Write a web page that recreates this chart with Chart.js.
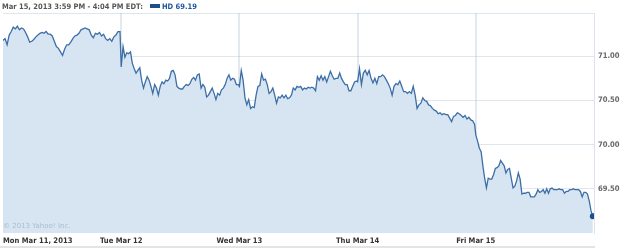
<!DOCTYPE html>
<html>
<head>
<meta charset="utf-8">
<script src="https://cdn.jsdelivr.net/npm/chart.js@4.4.1/dist/chart.umd.min.js"></script>
<style>
  body { margin: 0; background: #fff; }
  #wrap { position: relative; width: 625px; height: 248px; }
  #head { position: absolute; left: 2px; top: 2px; font: bold 7.5px "DejaVu Sans Condensed", "DejaVu Sans", sans-serif; color: #555; white-space: nowrap; }
  #head .sw { display: inline-block; width: 10px; height: 4px; background: #1d4f8c; margin: 0 2px 1px 7px; vertical-align: middle; }
  #head .hd { color: #1d5699; }
  #copy { position: absolute; left: 3px; top: 222px; font: 7px "DejaVu Sans", sans-serif; color: #aabdcf; }
  #strip { position: absolute; left: 0; top: 246px; width: 595px; height: 2px; background: #e4e4e4; }
  canvas { position: absolute; left: 0; top: 0; }
</style>
</head>
<body>
<div id="wrap">
  <canvas id="hdChart" width="625" height="246"></canvas>
  <div id="head">Mar 15, 2013 3:59 PM - 4:04 PM EDT:<span class="sw"></span><span class="hd">HD 69.19</span></div>
  <div id="copy">© 2013 Yahoo! Inc.</div>
  <div id="strip"></div>
</div>
<script>
// tick labels
const dayLabels = ['Mon Mar 11, 2013', 'Tue Mar 12', 'Wed Mar 13', 'Thu Mar 14', 'Fri Mar 15', ''];
const priceTicks = [69.5, 70, 70.5, 71];

// HD price, one array per trading day (evenly spaced through the session)
const mon = [71.18, 71.20, 71.13, 71.24, 71.28, 71.33, 71.31, 71.34, 71.30, 71.32, 71.31, 71.27, 71.22, 71.16, 71.17,
  71.19, 71.22, 71.24, 71.26, 71.27, 71.26, 71.28, 71.25, 71.25, 71.23, 71.17, 71.11, 71.09, 71.05, 71.01,
  71.08, 71.13, 71.13, 71.16, 71.20, 71.23, 71.24, 71.26, 71.30, 71.31, 71.32, 71.31, 71.30, 71.24, 71.21,
  71.26, 71.25, 71.27, 71.23, 71.25, 71.20, 71.18, 71.20, 71.17, 71.22, 71.24, 71.28, 71.28];
const tue = [70.88, 71.11, 70.99, 71.04, 71.03, 71.05, 70.92, 70.86, 70.81, 70.84, 70.87, 70.73, 70.64, 70.71, 70.77,
  70.73, 70.66, 70.58, 70.68, 70.64, 70.56, 70.66, 70.71, 70.69, 70.73, 70.72, 70.75, 70.83, 70.84, 70.79,
  70.66, 70.64, 70.63, 70.63, 70.66, 70.68, 70.67, 70.69, 70.74, 70.76, 70.73, 70.79, 70.80, 70.64, 70.68,
  70.65, 70.54, 70.56, 70.60, 70.64, 70.58, 70.51, 70.58, 70.56, 70.62, 70.64, 70.68, 70.75, 70.79, 70.73,
  70.75, 70.74, 70.68, 70.68];
const wed = [70.66, 70.84, 70.73, 70.53, 70.45, 70.51, 70.41, 70.43, 70.42, 70.56, 70.66, 70.67, 70.80, 70.73, 70.74,
  70.68, 70.58, 70.60, 70.64, 70.56, 70.47, 70.54, 70.53, 70.56, 70.53, 70.56, 70.52, 70.53, 70.56, 70.64,
  70.62, 70.66, 70.65, 70.66, 70.62, 70.64, 70.63, 70.65, 70.64, 70.65, 70.64, 70.61, 70.77, 70.73, 70.78,
  70.73, 70.77, 70.71, 70.77, 70.83, 70.78, 70.74, 70.75, 70.75, 70.81, 70.75, 70.71, 70.68, 70.68, 70.61,
  70.61, 70.66, 70.71, 70.72];
const thu = [70.71, 70.86, 70.68, 70.81, 70.84, 70.79, 70.84, 70.75, 70.70, 70.75, 70.69, 70.77, 70.77, 70.79, 70.77,
  70.73, 70.69, 70.64, 70.56, 70.66, 70.69, 70.68, 70.72, 70.66, 70.60, 70.60, 70.58, 70.60, 70.58, 70.66,
  70.56, 70.41, 70.45, 70.47, 70.53, 70.50, 70.49, 70.45, 70.44, 70.41, 70.39, 70.38, 70.35, 70.36, 70.34,
  70.35, 70.34, 70.34, 70.30, 70.26, 70.32, 70.33, 70.36, 70.35, 70.33, 70.31, 70.33, 70.29, 70.31, 70.28,
  70.27, 70.23];
const fri = [70.11, 70.04, 69.96, 69.92, 69.76, 69.62, 69.51, 69.62, 69.61, 69.61, 69.66, 69.73, 69.74, 69.76, 69.82,
  69.79, 69.76, 69.68, 69.72, 69.73, 69.62, 69.51, 69.53, 69.59, 69.68, 69.61, 69.44, 69.45, 69.45, 69.46,
  69.46, 69.41, 69.41, 69.41, 69.44, 69.49, 69.46, 69.47, 69.49, 69.45, 69.50, 69.45, 69.50, 69.51, 69.49,
  69.49, 69.49, 69.50, 69.49, 69.49, 69.45, 69.47, 69.47, 69.49, 69.49, 69.50, 69.49, 69.49, 69.49, 69.47,
  69.41, 69.46, 69.46, 69.44, 69.36, 69.25, 69.19];

const days = [mon, tue, wed, thu, fri];
const points = [];
days.forEach((arr, d) => {
  arr.forEach((v, i) => points.push({ x: d + i / (arr.length - 1) * 0.99, y: v }));
});

const axisFont = { family: '"DejaVu Sans Condensed", "DejaVu Sans", sans-serif', size: 7.6, weight: 'bold' };

const ctx = document.getElementById('hdChart').getContext('2d');
new Chart(ctx, {
  type: 'line',
  data: {
    datasets: [{
      label: 'HD',
      data: points,
      borderColor: '#3d6fa6',
      borderWidth: 1.3,
      backgroundColor: '#d6e5f1',
      fill: 'start',
      tension: 0,
      pointRadius: c => (c.dataIndex === points.length - 1 ? 3 : 0),
      pointBackgroundColor: '#1d4f8c',
      pointBorderWidth: 0
    }]
  },
  options: {
    responsive: false,
    animation: false,
    devicePixelRatio: 1,
    layout: { autoPadding: false, padding: { top: 13, left: 0, right: 0, bottom: 0 } },
    plugins: { legend: { display: false }, tooltip: { enabled: false } },
    scales: {
      x: {
        type: 'linear',
        min: 0,
        max: 5,
        z: 1,
        afterBuildTicks: s => { s.ticks = dayLabels.map((_, i) => ({ value: i })); },
        afterFit: s => { s.height = 13; },
        ticks: {
          autoSkip: false,
          maxRotation: 0,
          align: 'inner',
          padding: 3,
          color: '#333',
          font: axisFont,
          callback: v => dayLabels[v]
        },
        grid: {
          drawTicks: false,
          lineWidth: 2,
          color: c => (c.index > 0 && c.index < 5 ? '#e3e9f0' : 'rgba(0,0,0,0)')
        },
        border: { display: false }
      },
      y: {
        position: 'right',
        min: 69.0,
        max: 71.49,
        z: 1,
        afterBuildTicks: s => { s.ticks = priceTicks.concat([71.49]).map(v => ({ value: v })); },
        afterFit: s => { s.width = 31; },
        ticks: {
          padding: 4,
          color: '#666',
          font: axisFont,
          callback: v => (priceTicks.includes(v) ? v.toFixed(2) : '')
        },
        grid: { drawTicks: false, color: 'rgba(150,175,200,0.3)', lineWidth: 1 },
        border: { display: true, color: '#dde3ea', width: 1 }
      }
    }
  }
});
</script>
</body>
</html>
